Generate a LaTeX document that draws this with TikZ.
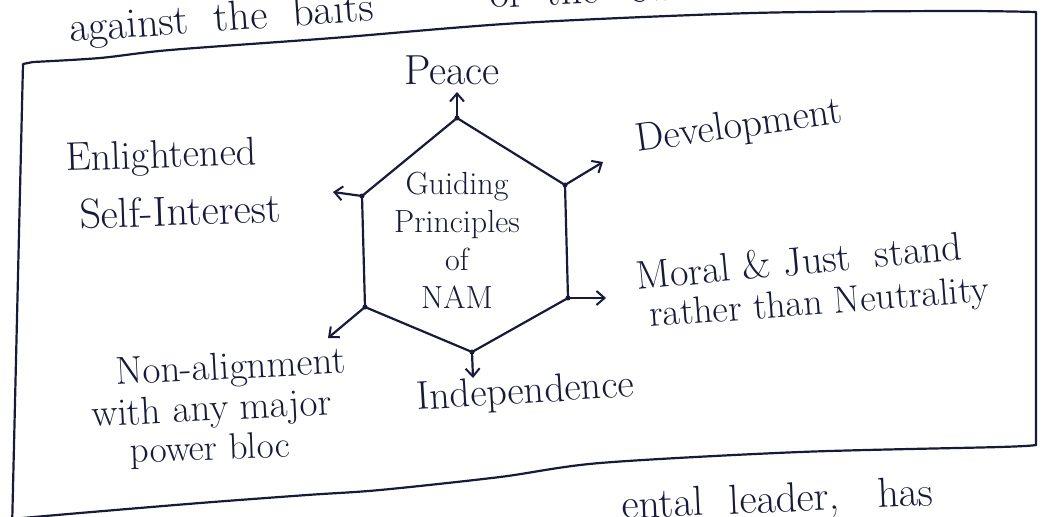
\documentclass[tikz,border=0pt]{standalone}
\usetikzlibrary{arrows.meta}
\definecolor{inkc}{RGB}{24,26,58}
\begin{document}
\begin{tikzpicture}[x=1pt,y=1pt,
  ink/.style={draw=inkc, line width=2.2pt, line cap=round, line join=round},
  pointer/.style={ink, -{Straight Barb[length=8pt,width=14pt,line width=2pt]}},
  hand/.style={text=inkc, inner sep=0pt, font=\fontsize{40}{44}\selectfont},
  inner/.style={text=inkc, inner sep=0pt, align=center, font=\fontsize{32}{38}\selectfont},
  vdot/.style={fill=inkc, circle, inner sep=0pt, minimum size=5pt},
]
\useasboundingbox (0,0) rectangle (1045,-517);
\fill[white] (0,0) rectangle (1045,-517);

% ---- frame around the figure ----
\draw[ink] (12,-530) -- (23,-64) -- (33,-62)
  plot[smooth] coordinates {(33,-62) (100,-58) (170,-50) (333,-38) (520,-23) (753,-13) (953,-11) (1036,-12)}
  -- (1036,-445);
\draw[ink] plot[smooth] coordinates {(0,-520) (80,-513) (200,-503) (307,-495) (380,-490) (500,-477) (600,-463) (800,-452) (1000,-447) (1036,-445)};

% ---- running text above and below the frame ----
\node[hand, anchor=base west, rotate=4, font=\fontsize{42}{46}\selectfont] (textabove) at (70,-42) {against \ the \ baits};
\node[hand, anchor=base west, rotate=2.5, font=\fontsize{42}{46}\selectfont] (textabove2) at (490,-8) {of \ the \ USA \ \& \ the \ USSR};
\node[hand, anchor=base west, rotate=2.5, font=\fontsize{42}{46}\selectfont] (textbelow) at (622,-519) {ental \ leader, \ \ has};

% ---- hexagon vertices ----
\coordinate (v1) at (457,-118);
\coordinate (v2) at (565,-185);
\coordinate (v3) at (568,-298);
\coordinate (v4) at (472,-352);
\coordinate (v5) at (365,-307);
\coordinate (v6) at (362,-196);
\draw[ink] (v1) -- (v2) -- (v3) -- (v4) -- (v5) -- (v6) -- cycle;
\foreach \v in {v1,v2,v3,v4,v5,v6} \node[vdot] at (\v) {};

% ---- centre text ----
\node[inner] (hub) at (457,-240) {Guiding\\Principles\\of\\NAM};

% ---- arrow ends ----
\coordinate (t1) at (457,-92);
\coordinate (t2) at (603,-162);
\coordinate (t3) at (606,-298);
\coordinate (t4) at (473,-378);
\coordinate (t5) at (328,-338);
\coordinate (t6) at (333,-192);
\draw[pointer] (v1) -- (t1);
\draw[pointer] (v2) -- (t2);
\draw[pointer] (v3) -- (t3);
\draw[pointer] (v4) -- (t4);
\draw[pointer] (v5) -- (t5);
\draw[pointer] (v6) -- (t6);

% ---- labels ----
\node[hand, anchor=base, font=\fontsize{42}{46}\selectfont] (peace) at (452,-84) {Peace};
\node[hand, anchor=base west, rotate=8] (dev) at (637,-152) {Development};
\node[hand, anchor=base west, rotate=2] (enl) at (66,-171) {Enlightened};
\node[hand, anchor=base west, rotate=2, font=\fontsize{42}{46}\selectfont] (self) at (80,-229) {Self-Interest};
\node[hand, anchor=base west, rotate=5.4] (moral) at (637,-290) {Moral \& Just \ stand};
\node[hand, anchor=base west, rotate=4.3, font=\fontsize{38}{42}\selectfont] (rather) at (650,-327) {rather than Neutrality};
\node[hand, anchor=base west, rotate=3, font=\fontsize{39}{42}\selectfont] (nonal) at (116,-385) {Non-alignment};
\node[hand, anchor=base west, rotate=3, font=\fontsize{39}{42}\selectfont] (withany) at (92,-427) {with any major};
\node[hand, anchor=base west, rotate=2, font=\fontsize{37}{40}\selectfont] (power) at (130,-463) {power bloc};
\node[hand, anchor=base west, rotate=3.5] (indep) at (417,-410) {Independence};
\end{tikzpicture}
\end{document}
